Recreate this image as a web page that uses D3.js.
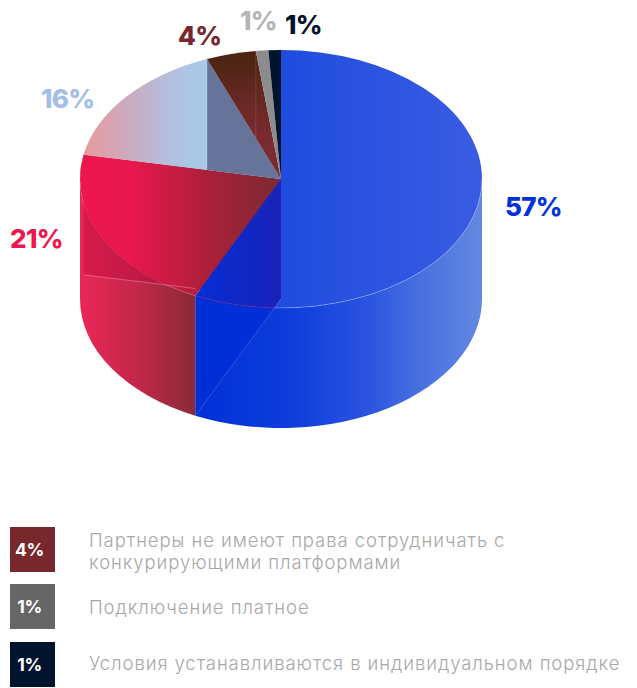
<!DOCTYPE html>
<html>
<head>
<meta charset="utf-8">
<script src="https://cdn.jsdelivr.net/npm/d3@7"></script>
<style>
  html, body { margin: 0; padding: 0; background: #fff; }
  svg { display: block; }
  text { font-family: Inter, "Noto Sans", sans-serif; }
</style>
</head>
<body>
<script>
// Survey shares, clockwise from twelve o'clock
const seriesValues = [57, 21, 16, 4, 1, 1];
const labelColors = ["#0031d9", "#f0164f", "#a2bfe8", "#78282c", "#b5b5b5", "#00142e"];
const legendValues = [4, 1, 1];
const legendColors = ["#78282c", "#666666", "#00142e"];
const legendLines = [
  ["Партнеры не имеют права сотрудничать с", "конкурирующими платформами"],
  ["Подключение платное"],
  ["Условия устанавливаются в индивидуальном порядке"]
];

const width = 637, height = 688;
const cx = 281, cy = 179, rx = 201, ry = 129, depth = 120;

const svg = d3.select("body").append("svg").attr("width", width).attr("height", height);
const defs = svg.append("defs");

const arcs = d3.pie().sort(null).startAngle(0).endAngle(2 * Math.PI)(seriesValues);

// Ellipse position for a pie angle, optionally dropped to the lower rim
const rim = (a, down = 0) => [cx + rx * Math.sin(a), cy - ry * Math.cos(a) + down];
const centre = (down = 0) => [cx, cy + down];
const M = p => `M${p[0]},${p[1]}`;
const L = p => `L${p[0]},${p[1]}`;
const arcTo = (p, sweep, large = 0) => `A${rx},${ry} 0 ${large} ${sweep} ${p[0]},${p[1]}`;

function gradient(id, x1, x2, stops, vertical = false) {
  const g = defs.append("linearGradient").attr("id", id).attr("gradientUnits", "userSpaceOnUse");
  if (vertical) g.attr("x1", 0).attr("x2", 0).attr("y1", x1).attr("y2", x2);
  else g.attr("x1", x1).attr("x2", x2).attr("y1", 0).attr("y2", 0);
  stops.forEach(([o, c]) => g.append("stop").attr("offset", o).attr("stop-color", c));
  return `url(#${id})`;
}
const shape = (d, fill) => svg.append("path").attr("d", d).attr("fill", fill);
const edge = (d, stroke, opacity) => svg.append("path").attr("d", d).attr("fill", "none")
  .attr("stroke", stroke).attr("stroke-opacity", opacity).attr("stroke-width", 0.8);

const [blue, red, pale, brown, grey, navy] = arcs;
const blueEnd = rim(blue.endAngle), redEnd = rim(red.endAngle), paleEnd = rim(pale.endAngle);
const brownEnd = rim(brown.endAngle), greyEnd = rim(grey.endAngle);
const left = 1.5 * Math.PI, right = 0.5 * Math.PI;

// Where the lower radial edge of the largest slice crosses the top rim
const k = depth / ry, ca = Math.cos(blue.endAngle);
const t = k * ca + Math.sqrt(k * k * ca * ca - k * k + 1);
const crossing = [cx + t * (blueEnd[0] - cx), cy + depth + t * (blueEnd[1] - cy)];

// Outer wall of the red slice
shape(M(redEnd) + arcTo(rim(left), 0) + arcTo(blueEnd, 0)
  + L(rim(blue.endAngle, depth)) + arcTo(rim(left, depth), 1)
  + L(rim(left)) + "Z",
  gradient("redWall", rim(left)[0], blueEnd[0], [[0, "#ea2858"], [0.5, "#c2284a"], [1, "#8a2a36"]]));

// Inner radial wall seen through the red slice
shape(M(redEnd) + L(centre()) + L(centre(depth)) + L(rim(red.endAngle, depth)) + "Z",
  gradient("redInner", redEnd[0], cx, [[0, "#d81a4c"], [0.45, "#b01a40"], [1, "#8a1a38"]]));

// Top of the red slice
shape(M(centre()) + L(redEnd) + arcTo(rim(left), 0) + arcTo(blueEnd, 0) + "Z",
  gradient("redTop", rim(left)[0], cx, [[0, "#ee1750"], [0.25, "#e8174f"], [0.65, "#aa2039"], [1, "#7a2a32"]]));
edge(M(rim(left)) + arcTo(blueEnd, 0), "#ffffff", 0.1);
edge(M(rim(red.endAngle, depth)) + L([blueEnd[0], cy + depth + (blueEnd[0] - cx) * (redEnd[1] - cy) / (redEnd[0] - cx)]), "#ffc0cc", 0.45);

// Outer wall of the blue slice
shape(M(rim(right)) + L(rim(right, depth)) + arcTo(rim(blue.endAngle, depth), 1)
  + L(blueEnd) + arcTo(crossing, 0) + arcTo(rim(right), 0) + "Z",
  gradient("blueWall", blueEnd[0], rim(right)[0],
    [[0, "#002fd8"], [0.35, "#0f3edc"], [0.6, "#2a54e0"], [0.8, "#4a72df"], [1, "#6388e2"]]));

// Front face below the rim, split off by the lower radial edge
shape(M(blueEnd) + arcTo(crossing, 0) + L(rim(blue.endAngle, depth)) + "Z", "#002fd8");

// Inner radial wall seen through the blue slice
shape(M(centre()) + L(blueEnd) + arcTo(crossing, 0) + L(centre(depth)) + "Z",
  gradient("blueInner", blueEnd[0], cx, [[0, "#052ed6"], [1, "#1a22b8"]]));

// Top of the blue slice
shape(M(rim(0)) + arcTo(rim(right), 1) + arcTo(crossing, 1) + L(centre(depth)) + "Z",
  gradient("blueTop", cx, rim(right)[0], [[0, "#1f4cde"], [1, "#3a5ce2"]]));
edge(M(rim(right)) + arcTo(crossing, 1), "#ffffff", 0.32);
edge(M(blueEnd) + arcTo(crossing, 0), "#a01c70", 0.6);
edge(M(crossing) + L(rim(blue.endAngle, depth)), "#5a70e0", 0.7);
edge(M(blueEnd) + L(rim(blue.endAngle, depth)), "#ffb0c0", 0.25);

// Pale slice with the radial wall standing on its right side
shape(M(centre()) + L(redEnd) + arcTo(paleEnd, 1) + "Z",
  gradient("paleTop", redEnd[0], paleEnd[0],
    [[0, "#e89a9c"], [0.35, "#ccaabd"], [0.65, "#b6bcdb"], [0.9, "#a8c8e8"], [1, "#a8c8e8"]]));
const wallFoot = [paleEnd[0], cy + (paleEnd[0] - cx) * (redEnd[1] - cy) / (redEnd[0] - cx)];
shape(M(paleEnd) + L(centre()) + L(wallFoot) + "Z", "#67749a");
edge(M(paleEnd) + L(wallFoot), "#ffffff", 0.25);

// Narrow back slices
shape(M(centre()) + L(paleEnd) + arcTo(brownEnd, 1) + "Z",
  gradient("brownTop", rim(0)[1], cy - 45, [[0, "#4a240f"], [1, "#7a2a30"]], true));
shape(M(centre()) + L(brownEnd) + arcTo(greyEnd, 1) + "Z", "#8c8c8c");
shape(M(centre()) + L(greyEnd) + arcTo(rim(navy.endAngle), 1) + "Z", "#00142e");
const seamFoot = [brownEnd[0], cy + (brownEnd[0] - cx) * (paleEnd[1] - cy) / (paleEnd[0] - cx)];
edge(M(brownEnd) + L(seamFoot), "#ffffff", 0.16);

// Percentage labels around the pie
const labelPos = [[505, 216], [10, 248], [41, 108], [178, 45], [240, 30], [285, 34]];
svg.append("g").selectAll("text").data(arcs).join("text")
  .attr("x", (d, i) => labelPos[i][0])
  .attr("y", (d, i) => labelPos[i][1])
  .attr("font-size", 26).attr("font-weight", 800)
  .attr("letter-spacing", -0.7)
  .attr("fill", (d, i) => labelColors[i])
  .text(d => d.data + "%");

// Legend
const rowTop = d3.scaleOrdinal().domain([0, 1, 2]).range([527, 584, 642]);
const rowBaselines = [[546.5, 569], [614], [670]];
const rows = svg.append("g").selectAll("g").data(legendValues).join("g");
rows.append("rect")
  .attr("x", 10).attr("y", (d, i) => rowTop(i))
  .attr("width", 45).attr("height", 45)
  .attr("fill", (d, i) => legendColors[i]);
rows.append("text")
  .attr("x", 29.5).attr("y", (d, i) => rowTop(i) + 28.5)
  .attr("text-anchor", "middle")
  .attr("font-size", 17.5).attr("font-weight", 700).attr("fill", "#fff")
  .attr("letter-spacing", -0.3)
  .text(d => d + "%");
rows.each(function (d, i) {
  d3.select(this).selectAll(".line").data(legendLines[i]).join("text")
    .attr("class", "line")
    .attr("x", 89).attr("y", (l, j) => rowBaselines[i][j])
    .attr("font-size", 18.5).attr("font-weight", 300)
    .attr("letter-spacing", 0.93)
    .attr("fill", "#a8a8a8")
    .text(l => l);
});
</script>
</body>
</html>
